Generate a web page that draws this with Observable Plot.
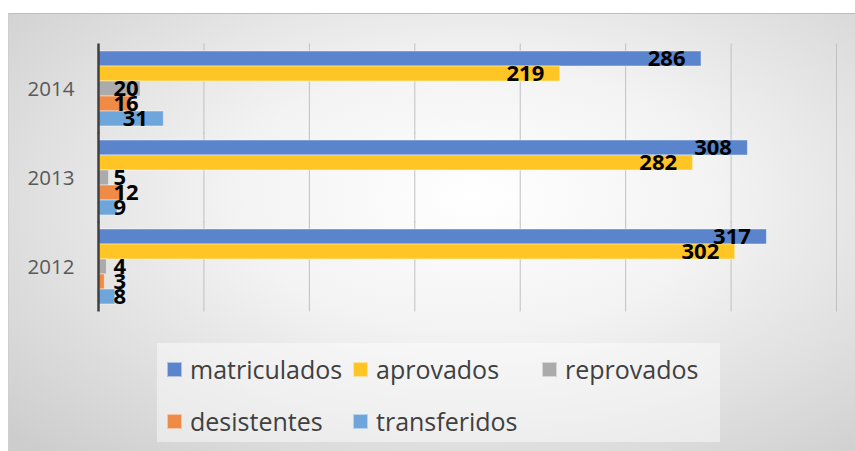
<!DOCTYPE html>
<html>
<head>
<meta charset="utf-8">
<script src="https://cdn.jsdelivr.net/npm/d3@7"></script>
<script src="https://cdn.jsdelivr.net/npm/@observablehq/plot@0.6"></script>
<style>
  html, body { margin: 0; padding: 0; background: #ffffff; }
  #chart {
    position: absolute; left: 8px; top: 13px; width: 847px; height: 438px;
    box-sizing: border-box;
    border-top: 1px solid #bdbdbd; border-left: 1px solid #cfcfcf;
    background: radial-gradient(ellipse 75% 80% at 55% 42%, #ffffff 0%, #f3f3f3 38%, #cdcdcd 100%);
    overflow: hidden;
    font-family: "Open Sans", sans-serif;
  }
  #plot { position: absolute; left: 0; top: 0; }
  #legend {
    position: absolute; left: 148px; top: 329px; width: 563px; height: 99px;
    background: rgba(255,255,255,0.45);
  }
  .item { position: absolute; height: 30px; display: flex; align-items: center; }
  .sw { width: 13px; height: 13px; margin-right: 8px; border: 1px solid rgba(255,255,255,0.5); }
  .lt { font-size: 25px; color: #404040; line-height: 30px; white-space: nowrap; }
</style>
</head>
<body>
<div id="chart"><div id="plot"></div><div id="legend"></div></div>
<script>
const years = ["2014", "2013", "2012"];
const series = ["matriculados", "aprovados", "reprovados", "desistentes", "transferidos"];
const matriculados = [286, 308, 317];
const aprovados = [219, 282, 302];
const reprovados = [20, 5, 4];
const desistentes = [16, 12, 3];
const transferidos = [31, 9, 8];
const colors = ["#5a84cb", "#ffc524", "#ababab", "#ef8a47", "#6ea6db"];
const xTicks = [0, 50, 100, 150, 200, 250, 300, 350];

const valuesBySeries = [matriculados, aprovados, reprovados, desistentes, transferidos];
const data = [];
years.forEach((yr, i) => series.forEach((s, j) => data.push({year: yr, series: s, value: valuesBySeries[j][i]})));

const W = 846, H = 329, ML = 89, MR = 19, MT = 29, MB = 30;
const k = (W - ML - MR) / 350;
function labelX(d) {
  const w = String(d.value).length * 12.6;
  const px = Math.max(d.value * k - 16 - w, 15);
  return px / k;
}

const chart = Plot.plot({
  width: W, height: H,
  marginLeft: ML, marginRight: MR, marginTop: MT, marginBottom: MB,
  style: {background: "transparent", fontFamily: "Open Sans, sans-serif"},
  x: {domain: [0, 350], axis: null},
  y: {domain: series, axis: null, padding: 0},
  fy: {domain: years, paddingInner: 0.111, paddingOuter: 0.0556, label: null},
  color: {domain: series, range: colors},
  marks: [
    Plot.ruleX(xTicks.filter(t => t > 0), {stroke: "#c0c0c0", strokeWidth: 1, insetTop: -5.5, insetBottom: -5.5}),
    Plot.barX(data, {fy: "year", y: "series", x: "value", fill: "series", stroke: "white", strokeOpacity: 0.45, strokeWidth: 1}),
    Plot.ruleX([0], {stroke: "#404040", strokeWidth: 2.5, insetTop: -5.5, insetBottom: -5.5}),
    Plot.text(data, {fy: "year", y: "series", x: labelX, text: d => String(d.value), textAnchor: "start", fontWeight: "bold", fontSize: 22, fill: "black"}),
    Plot.axisFy({anchor: "left", tickSize: 0, tickPadding: 24, fontSize: 20.5, color: "#595959", label: null})
  ]
});
document.getElementById("plot").appendChild(chart);

// legend
const legendPos = [[10, 26], [196, 26], [385, 26], [10, 78], [196, 78]];
const legend = document.getElementById("legend");
series.forEach((s, i) => {
  const it = document.createElement("div");
  it.className = "item";
  it.style.left = legendPos[i][0] + "px";
  it.style.top = (legendPos[i][1] - 15) + "px";
  const sw = document.createElement("div");
  sw.className = "sw";
  sw.style.background = colors[i];
  const t = document.createElement("span");
  t.className = "lt";
  t.textContent = s;
  it.appendChild(sw); it.appendChild(t);
  legend.appendChild(it);
});
</script>
</body>
</html>
